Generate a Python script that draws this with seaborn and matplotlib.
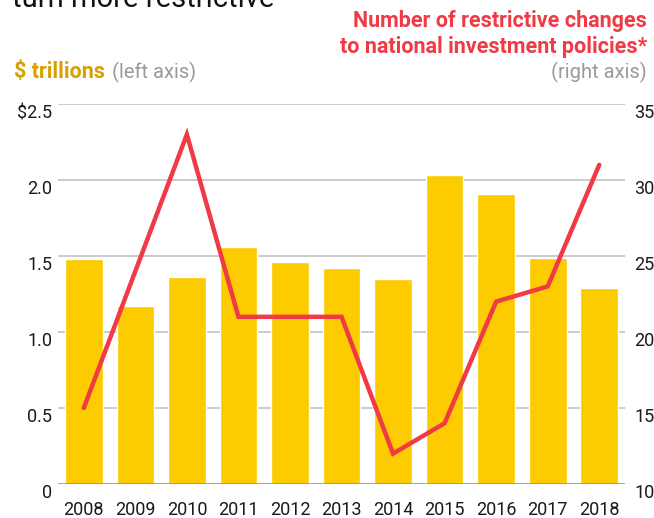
import matplotlib
matplotlib.use("Agg")
import matplotlib.pyplot as plt
import seaborn as sns
import pandas as pd

years = ["2008", "2009", "2010", "2011", "2012", "2013", "2014", "2015", "2016", "2017", "2018"]
fdi_trillions = [1.48, 1.17, 1.36, 1.56, 1.46, 1.42, 1.35, 2.03, 1.91, 1.49, 1.29]
restrictive_changes = [15, 24, 33, 21, 21, 21, 12, 14, 22, 23, 31]
left_ticks = [0, 0.5, 1.0, 1.5, 2.0, 2.5]
left_tick_labels = ["0", "0.5", "1.0", "1.5", "2.0", "$2.5"]
right_ticks = [10, 15, 20, 25, 30, 35]
right_tick_labels = ["10", "15", "20", "25", "30", "35"]

df = pd.DataFrame({"year": years, "fdi": fdi_trillions, "changes": restrictive_changes})

sns.set_theme(style="white")
plt.rcParams["font.family"] = ["Roboto", "DejaVu Sans"]

BAR = "#FCCC00"
RED = "#F03A45"
GOLD = "#D99E00"
GRAY = "#9A9A9A"
GRID = "#BDBDBD"

fig = plt.figure(figsize=(6.54, 5.18), dpi=100)
ax = fig.add_axes([0.0887, 0.0656, 0.867, 0.7336])

sns.barplot(data=df, x="year", y="fdi", color=BAR, saturation=1, width=0.73, ax=ax, zorder=2)
ax.set_ylim(0, 2.5)
ax.set_xlim(-0.5, 10.5)
ax.set_yticks(left_ticks)
ax.set_yticklabels(left_tick_labels)
for t in left_ticks[1:]:
    ax.axhline(t, color=GRID, lw=1.1, zorder=1)
ax.axhline(0, color="#8A8A8A", lw=1.8, zorder=3)
ax.set_xlabel("")
ax.set_ylabel("")
for s in ax.spines.values():
    s.set_visible(False)
ax.tick_params(axis="y", length=0, pad=4, labelsize=13, labelcolor="#1a1a1a")
ax.tick_params(axis="x", length=0, pad=12, labelsize=13, labelcolor="#1a1a1a")
for lab in ax.get_yticklabels():
    lab.set_va("top")

ax2 = ax.twinx()
sns.lineplot(data=df, x="year", y="changes", color=RED, lw=3.2, sort=False, ax=ax2, zorder=4)
ax2.set_ylim(10, 35)
ax2.set_yticks(right_ticks)
ax2.set_yticklabels(right_tick_labels)
ax2.set_ylabel("")
ax2.set_xlabel("")
for s in ax2.spines.values():
    s.set_visible(False)
ax2.tick_params(axis="y", length=0, pad=6.5, labelsize=13, labelcolor="#1a1a1a")
for lab in ax2.get_yticklabels():
    lab.set_va("top")
for ln in ax2.get_lines():
    ln.set_solid_capstyle("round")
    ln.set_solid_joinstyle("miter")

# Header texts
fig.text(12 / 654, 1 - 7 / 518, "turn more restrictive", fontsize=21, color="#111111",
         ha="left", va="baseline")
fig.text(647 / 654, 1 - 27 / 518, "Number of restrictive changes", fontsize=15.5,
         fontweight="bold", color=RED, ha="right", va="baseline")
fig.text(647 / 654, 1 - 53 / 518, "to national investment policies*", fontsize=15.5,
         fontweight="bold", color=RED, ha="right", va="baseline")
fig.text(647 / 654, 1 - 78 / 518, "(right axis)", fontsize=14.5, color=GRAY,
         ha="right", va="baseline")
fig.text(14 / 654, 1 - 78 / 518, "$ trillions", fontsize=15.5, fontweight="bold",
         color=GOLD, ha="left", va="baseline")
fig.text(112 / 654, 1 - 78 / 518, "(left axis)", fontsize=14.5, color=GRAY,
         ha="left", va="baseline")

fig.savefig("out.png", dpi=100)
